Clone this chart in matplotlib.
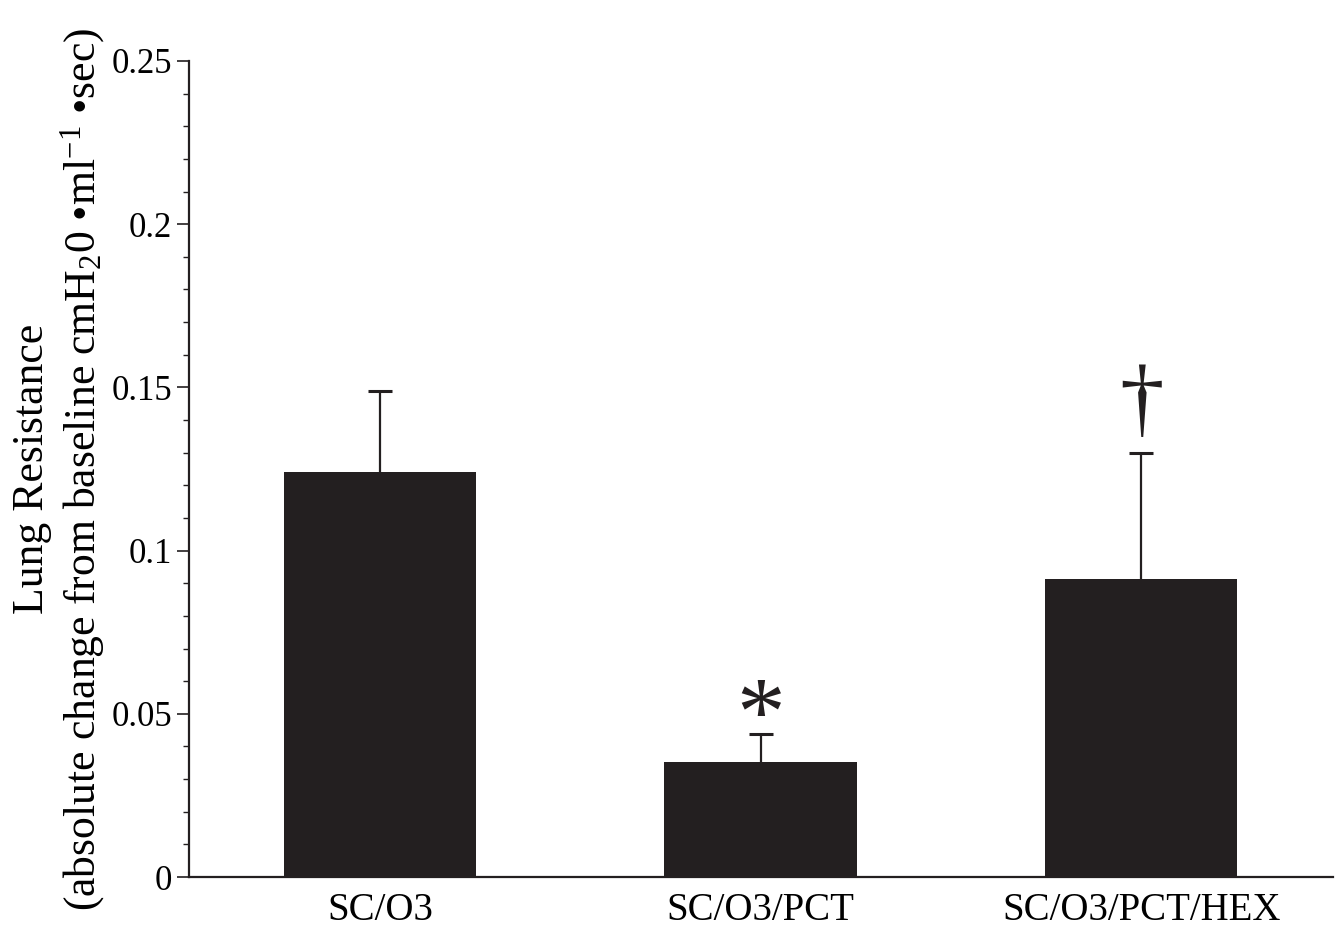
import matplotlib
matplotlib.use("Agg")
import matplotlib.pyplot as plt
from matplotlib.ticker import MultipleLocator

plt.rcParams['font.family'] = ['Liberation Serif', 'DejaVu Serif']
plt.rcParams['mathtext.fontset'] = 'custom'
plt.rcParams['mathtext.rm'] = 'Liberation Serif'
plt.rcParams['mathtext.it'] = 'Liberation Serif:italic'

categories = ["SC/O3", "SC/O3/PCT", "SC/O3/PCT/HEX"]
means = [0.124, 0.0352, 0.0912]
errors = [0.0248, 0.0086, 0.0386]
markers = ["", "*", "\u2020"]

fig = plt.figure(figsize=(13.42, 9.31), dpi=100)
ax = fig.add_axes([0.1408, 0.0580, 0.8525, 0.8765])

color = "#231f20"
x = list(range(len(categories)))
ax.bar(x, means, width=0.506, color=color, edgecolor="none", zorder=2)
eb = ax.errorbar(x, means, yerr=[[0]*len(means), errors], fmt="none",
                 ecolor=color, elinewidth=1.6, capsize=8.6, capthick=2.2, zorder=1)
# show only the upper caps
caplines = eb[1]
if len(caplines) == 2:
    caplines[0].set_visible(False)

ax.set_xlim(-0.5026, 2.504)
ax.set_ylim(0, 0.25)
ax.yaxis.set_minor_locator(MultipleLocator(0.01))
ax.set_yticks([0, 0.05, 0.1, 0.15, 0.2, 0.25])
ax.set_yticklabels(["0", "0.05", "0.1", "0.15", "0.2", "0.25"])
ax.set_xticks(x)
ax.set_xticklabels(categories, fontsize=28)
ax.tick_params(axis="x", length=0, pad=11)
ax.tick_params(axis="y", which="major", length=9, width=1.2, labelsize=25, pad=3, color=color)
ax.tick_params(axis="y", which="minor", length=4.5, width=1.0, color=color)
for s in ["top", "right"]:
    ax.spines[s].set_visible(False)
for s in ["left", "bottom"]:
    ax.spines[s].set_linewidth(1.6)
    ax.spines[s].set_color(color)

ax.set_ylabel("Lung Resistance\n(absolute change from baseline cmH$_2$0 \u2022ml$^{-1}$ \u2022sec)",
              fontsize=31.5, linespacing=1.2, labelpad=3)

for xi, m, e, mk in zip(x, means, errors, markers):
    if not mk:
        continue
    if mk == "*":
        ax.annotate(mk, (xi, m + e), xytext=(0, -22), textcoords="offset points",
                    ha="center", va="bottom", fontsize=70, color=color)
    else:
        ax.annotate(mk, (xi, m + e), xytext=(0, 5), textcoords="offset points",
                    ha="center", va="bottom", fontsize=64, color=color)

fig.savefig("out.png", dpi=100)
